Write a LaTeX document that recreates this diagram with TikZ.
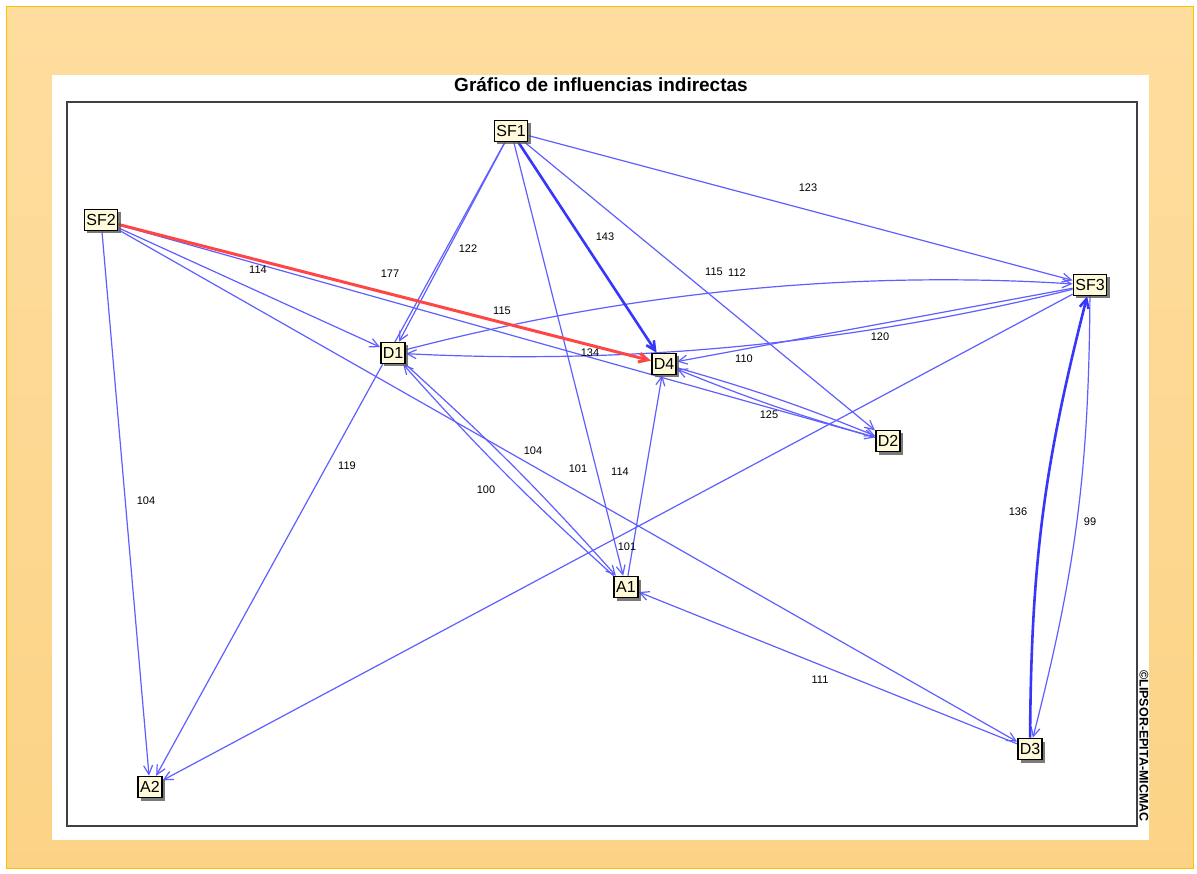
\documentclass[tikz,border=0pt]{standalone}
\usepackage{fontspec}
\setmainfont{Liberation Sans}
\usetikzlibrary{arrows.meta,shadows}
\pgfdeclarelayer{bg}
\pgfdeclarelayer{edges}
\pgfsetlayers{bg,edges,main}
\definecolor{peachT}{RGB}{254,221,158}
\definecolor{peachB}{RGB}{252,211,134}
\definecolor{goldline}{RGB}{255,192,0}
\definecolor{lnk}{RGB}{95,95,255}
\definecolor{lnkdark}{RGB}{55,55,250}
\definecolor{redl}{RGB}{255,70,70}
\definecolor{cream}{RGB}{255,251,218}
\begin{document}
\begin{tikzpicture}[x=1pt,y=-1pt,
  var/.style={draw=black, line width=1.6pt, fill=cream,
    font=\fontsize{16}{16}\selectfont, inner xsep=2pt, inner ysep=0pt,
    minimum height=21pt, text height=11.5pt, text depth=0pt,
    drop shadow={shadow xshift=3pt, shadow yshift=-3pt, fill=black!65, opacity=0.8}},
  lk/.style={draw=lnk, line width=1.2pt, -{Straight Barb[length=9pt,width=9pt]}},
  lkthick/.style={lk, draw=lnkdark, line width=2.6pt},
  lkred/.style={lk, draw=redl, line width=3pt},
  lbl/.style={font=\fontsize{11}{11}\selectfont, inner sep=0pt}]
\useasboundingbox (0,0) rectangle (1197,874);
\begin{pgfonlayer}{bg}
\fill[white] (0,0) rectangle (1197,874);
\shade[top color=peachT, bottom color=peachB] (6,7) rectangle (1193,868);
\draw[goldline, line width=1pt] (6,7) rectangle (1193,868);
\fill[white] (52,75) rectangle (1149,840);
\draw[line width=1.5pt, draw=black!75] (67,102) rectangle (1137,826);
\end{pgfonlayer}

\node[font=\bfseries\fontsize{19}{19}\selectfont] (title) at (601,85) {Gráfico de influencias indirectas};
\node[rotate=-90, font=\bfseries\fontsize{12.5}{12.5}\selectfont] (copy) at (1144,746) {©LIPSOR-EPITA-MICMAC};

\node[var] (SF1) at (511,131) {SF1};
\node[var] (SF2) at (101,220) {SF2};
\node[var] (SF3) at (1090,285) {SF3};
\node[var] (D1) at (393,353) {D1};
\node[var] (D4) at (664,364) {D4};
\node[var] (D2) at (888,441) {D2};
\node[var] (A1) at (626,587) {A1};
\node[var] (D3) at (1030,749) {D3};
\node[var] (A2) at (150,787) {A2};

\begin{pgfonlayer}{edges}
\draw[lk] (SF2) -- (D1);
\draw[lk] (SF2) -- (D2);
\draw[lk] (SF2) -- (D3);
\draw[lk] (SF2) -- (A2);
\draw[lk] (SF1) -- (D1);
\draw[lk] (SF1) -- (A2);
\draw[lk] (SF1) -- (SF3);
\draw[lk] (SF1) -- (D2);
\draw[lk] (SF1) -- (A1);
\draw[lk] (D1) .. controls (629,292) and (851,270) .. (SF3);
\draw[lk] (SF3) .. controls (851,344) and (629,365) .. (D1);
\draw[lk] (SF3) -- (D4);
\draw[lk] (D4) to[bend left=3] (D2);
\draw[lk] (D2) to[bend left=3] (D4);
\draw[lk] (D1) to[bend left=3] (A1);
\draw[lk] (A1) to[bend left=3] (D1);
\draw[lk] (A1) -- (D4);
\draw[lk] (SF3) -- (A2);
\draw[lk] (D3) -- (A1);
\draw[lk] (SF3) to[bend left=7] (D3);
\draw[lkthick] (D3) to[bend left=7] (SF3);
\draw[lkthick] (SF1) -- (D4);
\draw[lkred] (SF2) -- (D4);
\end{pgfonlayer}

\node[lbl] (l177) at (390,274) {177};
\node[lbl] (l114a) at (258,270) {114};
\node[lbl] (l115a) at (502,311) {115};
\node[lbl] (l122) at (468,249) {122};
\node[lbl] (l143) at (605,237) {143};
\node[lbl] (l123) at (808,188) {123};
\node[lbl] (l115b) at (714,272) {115};
\node[lbl] (l112) at (737,273) {112};
\node[lbl] (l120) at (880,337) {120};
\node[lbl] (l110) at (744,359) {110};
\node[lbl] (l134) at (590,353) {134};
\node[lbl] (l125) at (769,415) {125};
\node[lbl] (l119) at (347,466) {119};
\node[lbl] (l104a) at (146,501) {104};
\node[lbl] (l104b) at (533,451) {104};
\node[lbl] (l101a) at (578,469) {101};
\node[lbl] (l114b) at (620,472) {114};
\node[lbl] (l100) at (486,490) {100};
\node[lbl] (l101b) at (627,547) {101};
\node[lbl] (l136) at (1018,512) {136};
\node[lbl] (l99) at (1090,522) {99};
\node[lbl] (l111) at (820,680) {111};
\end{tikzpicture}
\end{document}
